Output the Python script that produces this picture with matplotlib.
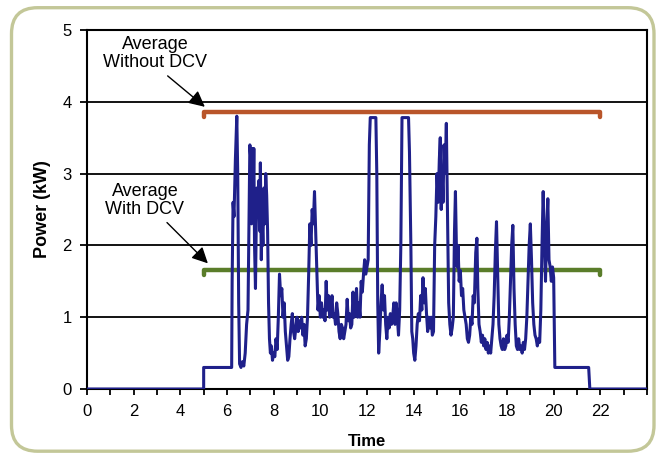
import matplotlib
matplotlib.use("Agg")
import matplotlib.pyplot as plt
from matplotlib.patches import FancyBboxPatch

plt.rcParams['font.family'] = ['Liberation Sans', 'DejaVu Sans']

# ---- data ----
time_h = [0, 5, 5, 6.2,
    6.22, 6.26, 6.3, 6.36, 6.42, 6.46, 6.5, 6.54, 6.6, 6.66, 6.72, 6.78, 6.84, 6.9,
    6.95, 6.98, 7.02, 7.05, 7.08, 7.12, 7.15, 7.18, 7.22, 7.25, 7.28, 7.32, 7.36, 7.4, 7.43, 7.47, 7.5,
    7.54, 7.58, 7.62, 7.66, 7.7, 7.74, 7.78, 7.82, 7.86, 7.9, 7.95, 8.0, 8.05, 8.1, 8.15, 8.2, 8.25,
    8.3, 8.35, 8.4, 8.45, 8.5, 8.55, 8.6, 8.65, 8.7, 8.75, 8.8, 8.85, 8.9, 8.95, 9.0, 9.05, 9.1, 9.15,
    9.2, 9.25, 9.3, 9.35, 9.4, 9.45, 9.5, 9.55, 9.6, 9.65, 9.7, 9.75, 9.8, 9.85, 9.9, 9.95, 10.0,
    10.05, 10.1, 10.15, 10.2, 10.25, 10.3, 10.35, 10.4, 10.45, 10.5, 10.55, 10.6, 10.65, 10.7, 10.75,
    10.8, 10.85, 10.9, 10.95, 11.0, 11.05, 11.1, 11.15, 11.2, 11.25, 11.3, 11.35, 11.4, 11.45, 11.5,
    11.55, 11.6, 11.65, 11.7, 11.75, 11.8, 11.85, 11.9, 11.95, 12.05, 12.1, 12.14, 12.38, 12.42, 12.46,
    12.5, 12.55, 12.6, 12.65, 12.7, 12.75, 12.8, 12.85, 12.9, 12.95, 13.0, 13.05, 13.1, 13.15, 13.2,
    13.25, 13.3, 13.35, 13.4, 13.45, 13.5, 13.78, 13.82, 13.88, 13.92, 13.96, 14.0, 14.05, 14.1, 14.15,
    14.2, 14.25, 14.3, 14.35, 14.4, 14.45, 14.5, 14.55, 14.6, 14.65, 14.7, 14.75, 14.8, 14.85, 14.9,
    14.95, 15.0, 15.05, 15.1, 15.14, 15.18, 15.22, 15.26, 15.3, 15.35, 15.4, 15.45, 15.5, 15.55, 15.6,
    15.65, 15.7, 15.75, 15.79, 15.83, 15.87, 15.9, 15.95, 16.0, 16.05, 16.1, 16.15, 16.2, 16.25, 16.3,
    16.35, 16.4, 16.45, 16.5, 16.55, 16.6, 16.66, 16.71, 16.75, 16.8, 16.85, 16.9, 16.95, 17.0, 17.05,
    17.1, 17.15, 17.2, 17.25, 17.3, 17.35, 17.4, 17.45, 17.5, 17.55, 17.6, 17.65, 17.7, 17.75, 17.8,
    17.85, 17.9, 17.95, 18.0, 18.05, 18.1, 18.15, 18.2, 18.25, 18.3, 18.35, 18.4, 18.45, 18.5, 18.55,
    18.6, 18.65, 18.7, 18.75, 18.8, 18.85, 18.9, 18.95, 19.0, 19.05, 19.1, 19.15, 19.2, 19.25, 19.3,
    19.35, 19.4, 19.45, 19.5, 19.55, 19.6, 19.65, 19.7, 19.75, 19.8, 19.85, 19.9, 19.95, 20.0, 20.05,
    21.5, 21.55, 24]
power_kw = [0, 0, 0.3, 0.3,
    1.5, 2.6, 2.4, 3.2, 3.8, 3.0, 1.2, 0.35, 0.3, 0.38, 0.32, 0.5, 0.9, 1.1,
    2.5, 3.4, 3.2, 2.3, 3.35, 2.6, 3.35, 2.0, 1.4, 2.2, 2.8, 2.5, 2.9, 2.2, 3.15, 1.8, 2.4,
    2.0, 2.8, 2.3, 3.0, 2.7, 2.2, 1.2, 0.7, 0.5, 0.6, 0.4, 0.5, 0.45, 0.7, 0.55, 1.0, 1.6,
    1.3, 1.4, 1.0, 1.2, 0.8, 0.6, 0.4, 0.45, 0.7, 0.9, 1.05, 0.8, 0.7, 0.85, 1.0, 0.8, 0.95, 0.85,
    1.0, 0.75, 0.9, 0.6, 0.7, 1.0, 1.6, 2.3, 2.0, 2.5, 2.3, 2.75, 2.2, 1.6, 1.1, 1.3, 1.0,
    1.2, 1.0, 1.1, 0.95, 1.5, 1.1, 1.3, 1.0, 1.1, 1.3, 1.0, 1.05, 0.9, 1.2, 1.05,
    0.8, 0.7, 0.9, 0.85, 0.7, 0.8, 0.9, 1.25, 0.95, 1.05, 0.85, 0.9, 1.35, 1.0, 1.1,
    1.4, 1.0, 1.2, 1.0, 1.5, 1.35, 1.6, 1.8, 1.6, 1.8, 3.4, 3.78, 3.78, 3.0, 1.2,
    0.5, 0.8, 1.2, 1.45, 1.1, 1.3, 0.9, 0.7, 1.0, 0.85, 1.05, 0.9, 1.0, 1.2, 0.9,
    1.2, 1.0, 0.75, 1.1, 2.0, 3.78, 3.78, 3.3, 2.0, 0.8, 0.7, 0.5, 0.4, 0.6, 0.9,
    1.05, 0.95, 1.3, 1.1, 1.55, 1.2, 1.4, 1.05, 0.8, 1.0, 0.85, 1.0, 0.75, 0.8, 2.0,
    2.4, 3.0, 2.6, 3.2, 3.5, 2.5, 3.0, 2.6, 3.4, 3.0, 3.7, 2.4, 1.2, 0.9, 0.75,
    0.85, 1.0, 2.2, 2.75, 2.0, 1.7, 2.0, 1.5, 1.65, 1.3, 1.4, 1.1, 1.0, 0.9, 0.7,
    0.65, 0.75, 1.0, 0.9, 1.3, 1.2, 1.9, 2.1, 1.4, 0.9, 0.8, 0.65, 0.75, 0.6, 0.7,
    0.55, 0.65, 0.5, 0.6, 0.5, 0.7, 0.9, 1.3, 1.9, 2.33, 1.6, 0.9, 0.7, 0.6, 0.55,
    0.7, 0.55, 0.6, 0.75, 0.65, 1.0, 1.5, 2.0, 2.28, 1.4, 0.9, 0.6, 0.55, 0.7, 0.55,
    0.6, 0.5, 0.65, 0.55, 0.7, 1.0, 1.5, 2.0, 2.3, 1.8, 1.2, 0.9, 0.75, 0.7, 0.6,
    0.7, 0.65, 1.1, 2.0, 2.75, 2.1, 1.5, 2.2, 2.65, 1.8, 1.7, 1.5, 1.7, 1.55, 0.3,
    0.3, 0, 0]

avg_without_dcv = 3.86
avg_with_dcv = 1.66
avg_start, avg_end = 5, 22
cap = 0.07

x_ticks = list(range(0, 25))
x_labels = [str(t) if (t % 2 == 0 and t <= 22) else '' for t in x_ticks]
y_ticks = [0, 1, 2, 3, 4, 5]

W, H = 656, 453
fig = plt.figure(figsize=(W / 100, H / 100), dpi=100)
fig.patch.set_facecolor('white')

# background frame
bg = fig.add_axes([0, 0, 1, 1], zorder=0)
bg.set_xlim(0, W)
bg.set_ylim(0, H)
bg.axis('off')
bg.add_patch(FancyBboxPatch((11.5, 1.8), 642.5, 443.5,
                            boxstyle="round,pad=0,rounding_size=26",
                            fc='white', ec='#c3c798', lw=2.4))

ax = fig.add_axes([87 / W, 1 - 389 / H, (647 - 87) / W, (389 - 30) / H], zorder=1)
ax.set_facecolor('white')
ax.set_xlim(0, 24)
ax.set_ylim(0, 5)

for yv in y_ticks[1:]:
    ax.axhline(yv, color='black', lw=1.3, zorder=1)

ax.plot(time_h, power_kw, color='#1f208a', lw=2.2, zorder=3, solid_joinstyle='round')

ax.plot([avg_start, avg_start, avg_end, avg_end],
        [avg_without_dcv - cap, avg_without_dcv, avg_without_dcv, avg_without_dcv - cap],
        color='#b9552a', lw=3.2, zorder=2, solid_capstyle='round', solid_joinstyle='round')
ax.plot([avg_start, avg_start, avg_end, avg_end],
        [avg_with_dcv - cap, avg_with_dcv, avg_with_dcv, avg_with_dcv - cap],
        color='#5a7d2a', lw=3.2, zorder=2, solid_capstyle='round', solid_joinstyle='round')

ax.annotate('Average\nWithout DCV', xy=(5.05, 3.93), xytext=(2.91, 4.67),
            ha='center', va='center', fontsize=13, linespacing=1.1,
            arrowprops=dict(arrowstyle='-|>', color='black', lw=1.0,
                            mutation_scale=24, shrinkA=2, shrinkB=0,
                            relpos=(0.57, 0.0)))
ax.annotate('Average\nWith DCV', xy=(5.18, 1.75), xytext=(2.48, 2.63),
            ha='center', va='center', fontsize=13, linespacing=1.1,
            arrowprops=dict(arrowstyle='-|>', color='black', lw=1.0,
                            mutation_scale=24, shrinkA=2, shrinkB=0,
                            relpos=(0.72, 0.0)))

ax.set_xticks(x_ticks)
ax.set_xticklabels(x_labels)
ax.set_yticks(y_ticks)
ax.tick_params(axis='both', labelsize=12, color='black', width=1.3)
ax.tick_params(axis='x', length=4, pad=6.5)
ax.tick_params(axis='y', length=5, pad=6)

for s in ax.spines.values():
    s.set_color('black')
    s.set_linewidth(1.5)

ax.set_xlabel('Time', fontsize=12, fontweight='bold')
ax.set_ylabel('Power (kW)', fontsize=13, fontweight='bold')
ax.xaxis.set_label_coords(0.5, -0.125)
ax.yaxis.set_label_coords(-0.064, 0.5)

fig.savefig('out.png', dpi=100, facecolor='white')
